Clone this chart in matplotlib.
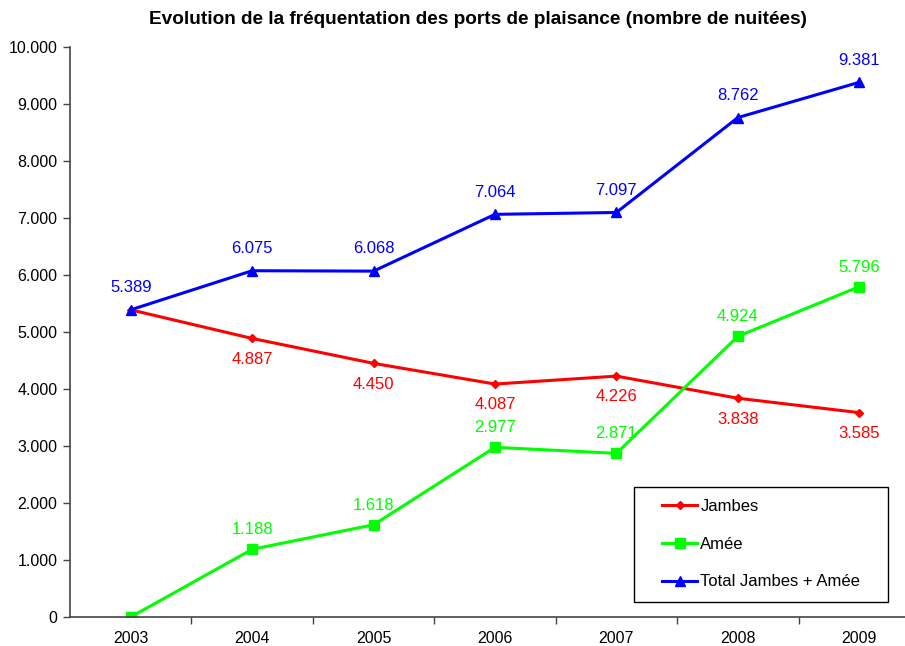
import matplotlib.pyplot as plt
from matplotlib.patches import Rectangle

years = ["2003", "2004", "2005", "2006", "2007", "2008", "2009"]
jambes = [5389, 4887, 4450, 4087, 4226, 3838, 3585]
amee = [0, 1188, 1618, 2977, 2871, 4924, 5796]
total = [5389, 6075, 6068, 7064, 7097, 8762, 9381]
y_ticks = [0, 1000, 2000, 3000, 4000, 5000, 6000, 7000, 8000, 9000, 10000]

plt.rcParams['font.family'] = ['Liberation Sans', 'DejaVu Sans']


def fmt(v):
    return f"{v:,}".replace(",", ".")


fig = plt.figure(figsize=(9.05, 6.46), dpi=100)
ax = fig.add_axes([70 / 905, 1 - 617 / 646, 850 / 905, 570 / 646])

x = range(len(years))
ax.plot(x, jambes, color='#ff0000', lw=2.2, marker='D', ms=4.5, label='Jambes')
ax.plot(x, amee, color='#00ff00', lw=2.2, marker='s', ms=6.5, label='Amée')
ax.plot(x, total, color='#0000ff', lw=2.2, marker='^', ms=7, label='Total Jambes + Amée')

# étiquettes de données
for i, v in enumerate(jambes):
    if i > 0:
        ax.annotate(fmt(v), (i, v), xytext=(0, -15), textcoords='offset points',
                    ha='center', va='center', color='#ff0000', fontsize=12)
for i, v in enumerate(amee):
    if v > 0:
        ax.annotate(fmt(v), (i, v), xytext=(0, 14), textcoords='offset points',
                    ha='center', va='center', color='#00ff00', fontsize=12)
for i, v in enumerate(total):
    ax.annotate(fmt(v), (i, v), xytext=(0, 16), textcoords='offset points',
                ha='center', va='center', color='#0000ff', fontsize=12)

ax.set_xlim(-0.5, 6.5)
ax.set_ylim(0, 10000)
ax.set_yticks(y_ticks)
ax.set_yticklabels([fmt(v) for v in y_ticks], fontsize=11.5)
ax.set_xticks(list(x))
ax.set_xticklabels(years, fontsize=11.5)
ax.tick_params(axis='x', length=0, pad=10)
ax.set_xticks([i + 0.5 for i in range(len(years))], minor=True)
ax.tick_params(axis='x', which='minor', length=5, width=1, color='#444444')
ax.tick_params(axis='y', length=5, width=1, color='#444444', pad=4)
for s in ['top', 'right']:
    ax.spines[s].set_visible(False)
for s in ['left', 'bottom']:
    ax.spines[s].set_color('#444444')
    ax.spines[s].set_linewidth(1.2)

# cadre de la légende
fig.add_artist(Rectangle((634 / 905, 1 - 602 / 646), 254 / 905, 115 / 646,
                         transform=fig.transFigure, fill=False, edgecolor='black', lw=1))
ax.legend(loc='upper left', bbox_to_anchor=(662 / 905, 1 - 499 / 646),
          bbox_transform=fig.transFigure, fontsize=12, frameon=False,
          handlelength=2.1, labelspacing=1.36, borderpad=0, handletextpad=0.2,
          borderaxespad=0)

fig.text(478 / 905, 1 - 20 / 646, "Evolution de la fréquentation des ports de plaisance (nombre de nuitées)",
         ha='center', va='center', fontsize=13.7, fontweight='bold')

fig.savefig('out.png', dpi=100)
